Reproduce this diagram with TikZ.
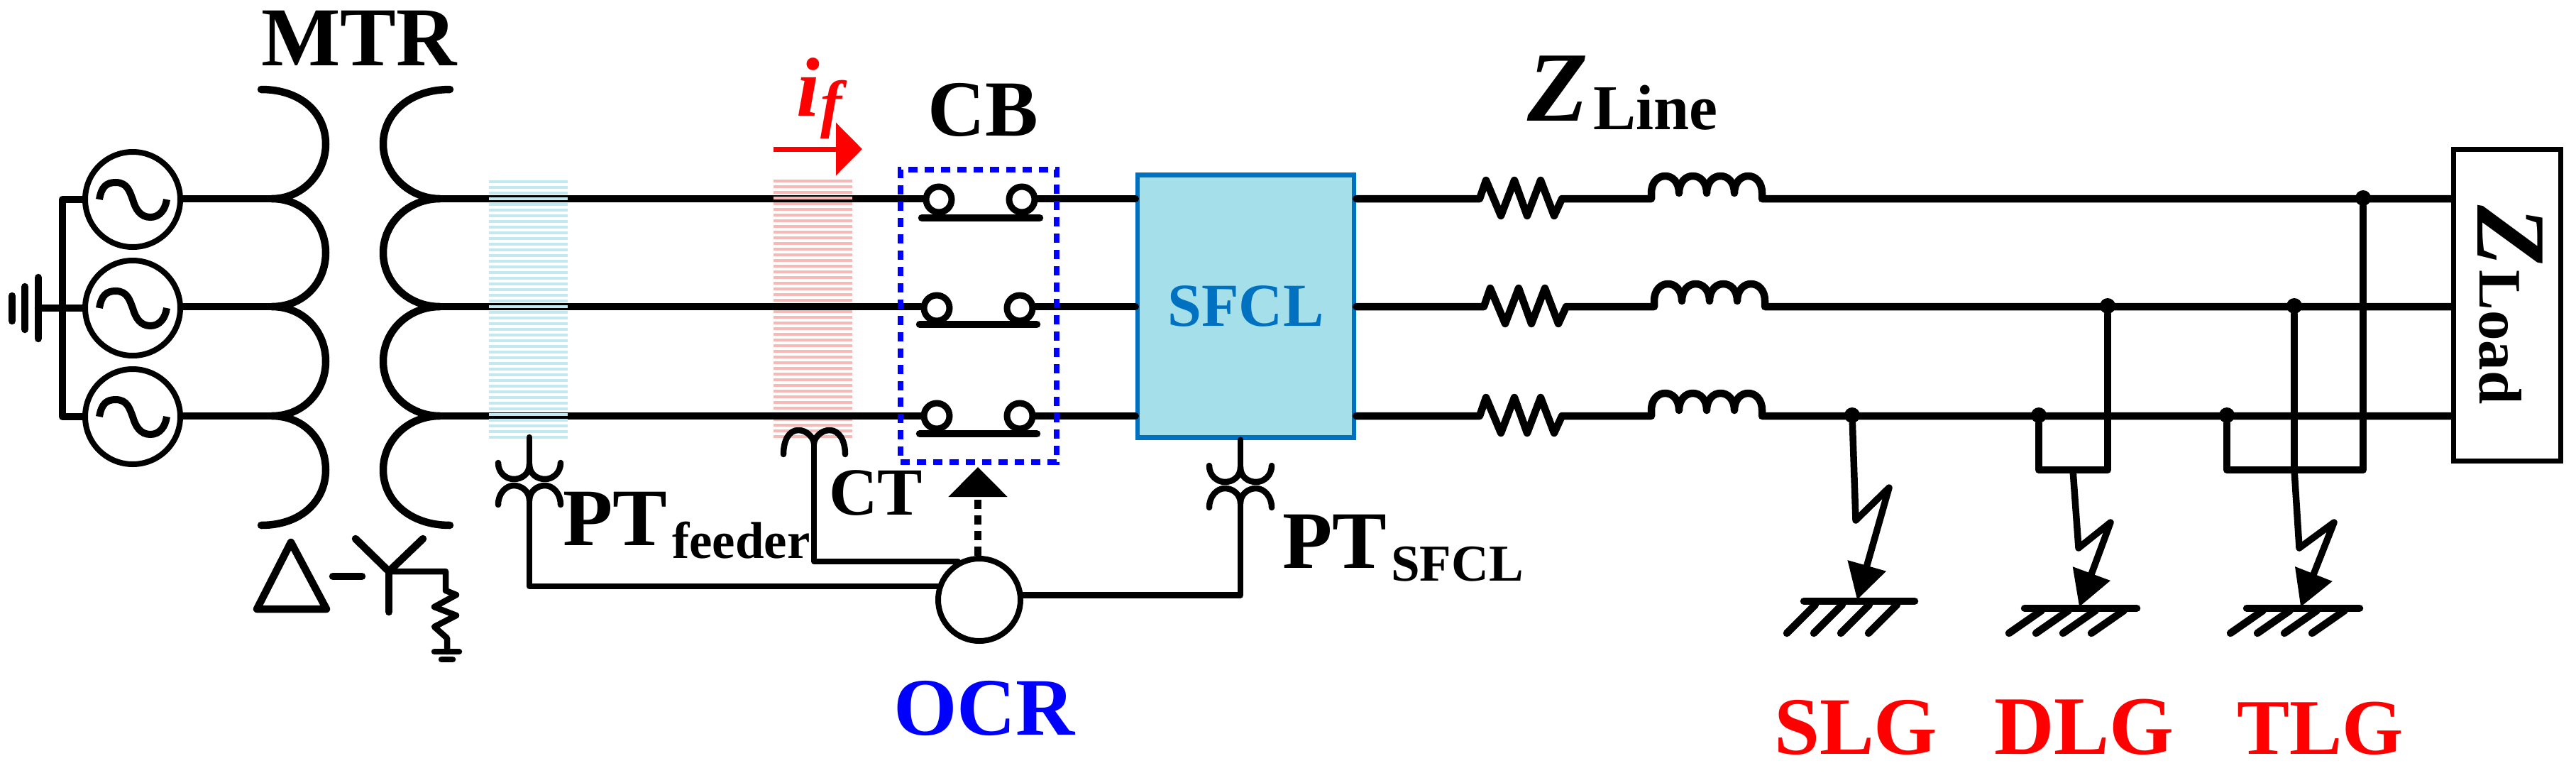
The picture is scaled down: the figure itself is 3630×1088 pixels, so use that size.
\documentclass[tikz,border=0pt]{standalone}
\usepackage{fontspec}
\setmainfont{Liberation Serif}
\usetikzlibrary{arrows.meta,calc}
\definecolor{sfclfill}{RGB}{165,223,233}
\definecolor{sfclblue}{RGB}{0,112,192}
\definecolor{stripered}{RGB}{245,186,181}
\definecolor{stripeblue}{RGB}{192,234,240}
\newcommand\txt[2]{{\fontsize{#1}{#1}\selectfont #2}}
\newcommand\ptcoil[2]{%
  \draw[thin wire] (#1-44,#2) .. controls (#1-44,#2+14) and (#1-33,#2+23) .. (#1-22,#2+23)
     .. controls (#1-11,#2+23) and (#1,#2+16) .. (#1,#2+2)
     .. controls (#1,#2+16) and (#1+11,#2+23) .. (#1+22,#2+23)
     .. controls (#1+33,#2+23) and (#1+44,#2+14) .. (#1+44,#2);
  \draw[thin wire] (#1-44,#2+59) .. controls (#1-44,#2+43) and (#1-33,#2+32) .. (#1-22,#2+32)
     .. controls (#1-11,#2+32) and (#1,#2+40) .. (#1,#2+53)
     .. controls (#1,#2+40) and (#1+11,#2+32) .. (#1+22,#2+32)
     .. controls (#1+33,#2+32) and (#1+44,#2+43) .. (#1+44,#2+59);
}
\newcommand\phasez[3]{%
  \coordinate (rs) at (#2,#1);
  \coordinate (ls) at (#3,#1);
  \draw[wire] (sfcl.east |- rs) -- (rs) -- ++(9,-26) -- ++(21,50) -- ++(19,-50) -- ++(18,50)
     -- ++(19,-50) -- ++(19,50) -- ++(11,-24) -- (ls) -- ++(0,-8)
     .. controls +(0,-32) and +(0,-32) .. ++(39,0)
     .. controls +(0,-32) and +(0,-32) .. ++(39,0)
     .. controls +(0,-32) and +(0,-32) .. ++(39,0)
     .. controls +(0,-32) and +(0,-32) .. ++(39,0)
     -- ++(0,8) -- (load.west |- rs);
}
\tikzset{
  wire/.style={line width=10.5pt,line cap=round,line join=round,black},
  thin wire/.style={wire,line width=8.5pt},
  source/.style={circle,draw,line width=8pt,minimum size=134pt,inner sep=0},
  contact/.style={circle,draw,fill=white,line width=9pt,minimum size=36pt,inner sep=0},
  dot/.style={circle,fill=black,minimum size=22pt,inner sep=0},
  lbl/.style={inner sep=0,anchor=base west,font=\bfseries},
  bolt/.style={wire,line width=9.5pt,-{Triangle[length=50pt,width=54pt]}},
}
\begin{document}
\begin{tikzpicture}[x=1pt,y=-1pt]
\useasboundingbox (0,0) rectangle (3630,1088);
% red CT stripes
\foreach \k in {0,...,45} \fill[stripered] (1090,253+8*\k) rectangle (1201,257+8*\k);
% sources
\node[source] (s1) at (187,281) {};
\node[source] (s2) at (187,434) {};
\node[source] (s3) at (187,587) {};
\foreach \yy in {281,434,587}
  \draw[line width=10pt,black] (140,\yy) .. controls (143,\yy-18) and (150,\yy-24) .. (163,\yy-24)
    .. controls (180,\yy-24) and (183,\yy-10) .. (187,\yy)
    .. controls (191,\yy+14) and (198,\yy+25) .. (212,\yy+25)
    .. controls (225,\yy+25) and (233,\yy+14) .. (235,\yy);
% neutral bus and earth
\coordinate (bt) at (88,281);
\coordinate (bb) at (88,587);
\coordinate (e0) at (54,434);
\draw[wire] (s1.west) -- (bt) -- (bb) -- (s3.west);
\draw[wire] (e0) -- (s2.west);
\draw[wire] (54,391) -- (54,477);
\draw[wire] (35,404) -- (35,464);
\draw[wire] (17,417) -- (17,452);
% transformer primary
\coordinate (p1) at (383,280);
\coordinate (p2) at (383,432);
\coordinate (p3) at (383,586);
\draw[wire] (s1.east |- p1) -- (p1);
\draw[wire] (s2.east |- p2) -- (p2);
\draw[wire] (s3.east |- p3) -- (p3);
\draw[wire] (368,126) .. controls (425,126) and (459,160) .. (459,203) .. controls (459,245) and (425,280) .. (p1)
  .. controls (428,280) and (459,315) .. (459,356) .. controls (459,398) and (428,432) .. (p2)
  .. controls (428,432) and (459,467) .. (459,509) .. controls (459,551) and (428,586) .. (p3)
  .. controls (428,586) and (459,620) .. (459,662) .. controls (459,705) and (425,740) .. (368,740);
% transformer secondary
\coordinate (q1) at (620,280);
\coordinate (q2) at (620,432);
\coordinate (q3) at (620,586);
\draw[wire] (634,126) .. controls (577,126) and (540,160) .. (540,203) .. controls (540,245) and (577,280) .. (q1)
  .. controls (575,280) and (540,315) .. (540,356) .. controls (540,398) and (575,432) .. (q2)
  .. controls (575,432) and (540,467) .. (540,509) .. controls (540,551) and (575,586) .. (q3)
  .. controls (575,586) and (540,620) .. (540,662) .. controls (540,705) and (577,740) .. (634,740);
% SFCL and load
\node[rectangle,draw=sfclblue,fill=sfclfill,line width=6.5pt,minimum width=305pt,minimum height=370pt,inner sep=0,
  text=sfclblue,font=\bfseries] (sfcl) at (1755.5,431.5) {\txt{86}{SFCL}};
\node[rectangle,draw,fill=white,line width=7pt,minimum width=151pt,minimum height=439pt,inner sep=0] (load) at (3532.5,429.5) {};
% CB contacts
\node[contact] (c11) at (1323,281) {};
\node[contact] (c12) at (1440,281) {};
\node[contact] (c21) at (1320,434) {};
\node[contact] (c22) at (1437,434) {};
\node[contact] (c31) at (1320,586) {};
\node[contact] (c32) at (1437,586) {};
\draw[wire] (q1) -- (q1 -| c11.west);
\draw[wire] (q2) -- (q2 -| c21.west);
\draw[wire] (q3) -- (q3 -| c31.west);
\draw[wire] (q1 -| c12.east) -- (q1 -| sfcl.west);
\draw[wire] (q2 -| c22.east) -- (q2 -| sfcl.west);
\draw[wire] (q3 -| c32.east) -- (q3 -| sfcl.west);
\draw[wire] (1299,307) -- (1465,307);
\draw[wire] (1296,457) -- (1461,457);
\draw[wire] (1296,611) -- (1461,611);
\fill[stripered] (1090,277) rectangle (1201,281);
% PT stripes
\foreach \k in {0,...,45} \fill[stripeblue] (689,254+8*\k) rectangle (800,258+8*\k);
\node[rectangle,draw=blue,line width=8pt,dash pattern=on 13pt off 10pt,minimum width=220pt,minimum height=412pt,inner sep=0] (cb) at (1379,445) {};
% Z line
\phasez{280}{2085}{2327}
\phasez{432}{2091}{2331}
\phasez{586}{2085}{2327}
% OCR
\node[circle,draw,fill=white,line width=8pt,minimum size=116pt,inner sep=0] (ocr) at (1380,845) {};
\coordinate (ptf) at (746,616);
\coordinate (ct) at (1147,625);
\coordinate (pts) at (1748,625);
\coordinate (cbt) at (1378,658);
\draw[thin wire] (ptf) -- (746,655);
\ptcoil{746}{652}
\draw[thin wire] (746,705) |- (ocr.162);
\draw[thin wire] (ct) |- (ocr.119);
\draw[thin wire] (1104,640) .. controls (1104,620) and (1112,606) .. (1125,606) .. controls (1138,606) and (1147,618) .. (ct)
   .. controls (1147,618) and (1156,606) .. (1169,606) .. controls (1182,606) and (1191,620) .. (1191,640);
\draw[thin wire] (sfcl.south -| pts) -- (1748,660);
\ptcoil{1748}{656}
\draw[thin wire] (1748,709) |- (ocr.6.5);
\draw[line width=10pt,dash pattern=on 13pt off 9pt,-{Triangle[length=42pt,width=81pt]}] (ocr.north -| cbt) -- (cbt);
% red current arrow
\coordinate (ia) at (1090,210);
\coordinate (ib) at (1215,210);
\draw[red,line width=7pt,-{Triangle[length=37pt,width=73pt]}] (ia) -- (ib);
% delta-wye
\draw[wire] (410,764) -- (362,858) -- (460,858) -- cycle;
\draw[wire] (469,812) -- (510,812);
\coordinate (yc) at (548,805);
\draw[wire] (501,759) -- (yc) -- (596,759);
\draw[wire] (yc) -- (548,862);
\draw[thin wire] (yc) -- (628,805) -- (628,832) -- (643,838) -- (612,855) -- (643,867) -- (612,883) -- (630,899) -- (630,918);
\draw[thin wire] (612,918) -- (647,918);
\draw[thin wire] (622,929) -- (638,929);
% junctions
\node[dot] (j1) at (2610,585) {};
\node[dot] (j2) at (2873,585) {};
\node[dot] (j3) at (2970,431) {};
\node[dot] (j4) at (3138,585) {};
\node[dot] (j5) at (3233,431) {};
\node[dot] (j6) at (3330,279) {};
\coordinate (d1) at (2873,662);
\coordinate (d2) at (2970,662);
\coordinate (t1) at (3138,662);
\coordinate (t2) at (3330,662);
\coordinate (dm) at (2921,662);
\coordinate (tm) at (3233,662);
\draw[wire] (j2) -- (d1) -- (d2) -- (j3);
\draw[wire] (j4) -- (t1) -- (t2) -- (j6);
\draw[wire] (j5) -- (tm);
\coordinate (ft1) at (2617,845);
\coordinate (ft2) at (2930,855);
\coordinate (ft3) at (3242,855);
\draw[bolt] (j1) -- (2615,733) -- (2662,687) -- (ft1);
\draw[bolt] (dm) -- (2929,772) -- (2974,736) -- (ft2);
\draw[bolt] (tm) -- (3240,772) -- (3289,736) -- (ft3);
% grounds
\draw[wire] (2542,847) -- (2698,847);
\draw[wire] (2853,857) -- (3011,857);
\draw[wire] (3166,857) -- (3325,857);
\foreach \x in {2518,2556,2594,2633} \draw[wire] (\x,892) -- (\x+40,852);
\foreach \x in {2831,2869,2907,2947} \draw[wire] (\x,892) -- (\x+46,860);
\foreach \x in {3143,3181,3219,3258} \draw[wire] (\x,892) -- (\x+46,860);
% labels
\node[lbl] (mtr) at (368,92) {\txt{118}{MTR}};
\node[lbl,text=red] (if) at (1122,163) {\itshape\txt{118}{i}\raisebox{-13pt}{\hspace{2pt}\txt{90}{f}}};
\node[lbl] (cbl) at (1307,191) {\txt{112}{CB}};
\node[lbl] (ctl) at (1168,725) {\txt{95}{CT}};
\node[lbl] (ptfl) at (793,768) {\txt{115}{PT}\raisebox{-18pt}{\hspace{7pt}\txt{73}{feeder}}};
\node[lbl] (ptsl) at (1807,800) {\txt{115}{PT}\raisebox{-18pt}{\hspace{6pt}\txt{73}{SFCL}}};
\node[lbl] (zl) at (2152,170) {\txt{140}{\itshape Z}\raisebox{-12pt}{\hspace{8pt}\txt{90}{Line}}};
\node[lbl,rotate=-90] (zld) at (3491,289) {\txt{140}{\itshape Z}\raisebox{3pt}{\hspace{6pt}\txt{85}{Load}}};
\node[lbl,text=blue] (ocrl) at (1259,1035) {\txt{115}{OCR}};
\node[lbl,text=red] (slg) at (2500,1062) {\txt{115}{SLG}};
\node[lbl,text=red] (dlg) at (2810,1062) {\txt{117}{DLG}};
\node[lbl,text=red] (tlg) at (3152,1062) {\txt{111}{TLG}};
\end{tikzpicture}
\end{document}
